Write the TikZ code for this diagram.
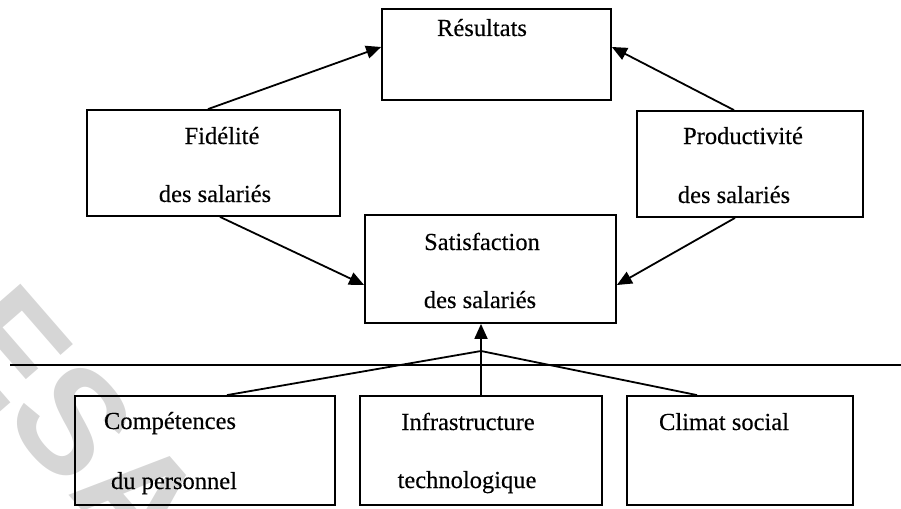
\documentclass[tikz,border=0pt]{standalone}
\usepackage{fontspec}
\setmainfont{Liberation Serif}[FakeBold=0.3]
\newfontfamily\markfont{Liberation Sans Bold}
\usetikzlibrary{arrows.meta,calc}

\begin{document}
\begin{tikzpicture}[x=1pt,y=-1pt,
  box/.style={draw, line width=1.8pt, rectangle, inner sep=0pt},
  lbl/.style={anchor=base, inner sep=0pt, font=\fontsize{24.5}{29}\selectfont},
  link/.style={line width=1.8pt},
  arr/.style={link, -{Triangle[length=15pt,width=13pt]}}]

\useasboundingbox (0,0) rectangle (901,508);

% faint diagonal watermark
\begin{scope}
  \clip (0,0) rectangle (901,508);
  \node[text=black!16, inner sep=0pt, font=\markfont\fontsize{148}{148}\selectfont, rotate=-49]
    (wm) at (78,428) {CESAG};
\end{scope}

% boxes
\node[box, minimum width=229pt, minimum height=91pt]  (res)   at (496.5,54.5) {};
\node[box, minimum width=253pt, minimum height=106pt] (fid)   at (213.5,163)  {};
\node[box, minimum width=226pt, minimum height=106pt] (prod)  at (750,164)    {};
\node[box, minimum width=251pt, minimum height=108pt] (sat)   at (490.5,269)  {};
\node[box, minimum width=260pt, minimum height=109pt] (comp)  at (205,450.5)  {};
\node[box, minimum width=242pt, minimum height=109pt] (infra) at (481,450.5)  {};
\node[box, minimum width=226pt, minimum height=109pt] (clim)  at (740,450.5)  {};

% labels
\node[lbl] (tres)   at (482,36)  {Résultats};
\node[lbl] (tfid1)  at (222,144) {Fidélité};
\node[lbl] (tfid2)  at (215,202) {des salariés};
\node[lbl] (tprod1) at (743,144) {Productivité};
\node[lbl] (tprod2) at (734,203) {des salariés};
\node[lbl] (tsat1)  at (482,250) {Satisfaction};
\node[lbl] (tsat2)  at (480,308) {des salariés};
\node[lbl] (tcomp1) at (170,429) {Compétences};
\node[lbl] (tcomp2) at (174,489) {du personnel};
\node[lbl] (tinf1)  at (468,430) {Infrastructure};
\node[lbl] (tinf2)  at (467,488) {technologique};
\node[lbl] (tclim)  at (724,430) {Climat social};

% separating line
\coordinate (hl1) at (10,365);
\coordinate (hl2) at (901,365);
\draw[link] (hl1) -- (hl2);

% upper arrows
\draw[arr] ([xshift=-5.5pt]fid.north) -- ([yshift=7.5pt]res.west);
\draw[arr] ([xshift=-16pt]prod.north) -- ([yshift=7.5pt]res.east);
\draw[arr] ([xshift=6.5pt]fid.south) -- ([yshift=-16pt]sat.west);
\draw[arr] ([xshift=-15pt]prod.south) -- ([yshift=-16pt]sat.east);

% lower fan into satisfaction
\coordinate (J) at (481,351);
\draw[link] ([xshift=22pt]comp.north) -- (J) -- ([xshift=-43pt]clim.north);
\draw[arr] (infra.north) -- (infra.north |- sat.south);

\end{tikzpicture}
\end{document}
